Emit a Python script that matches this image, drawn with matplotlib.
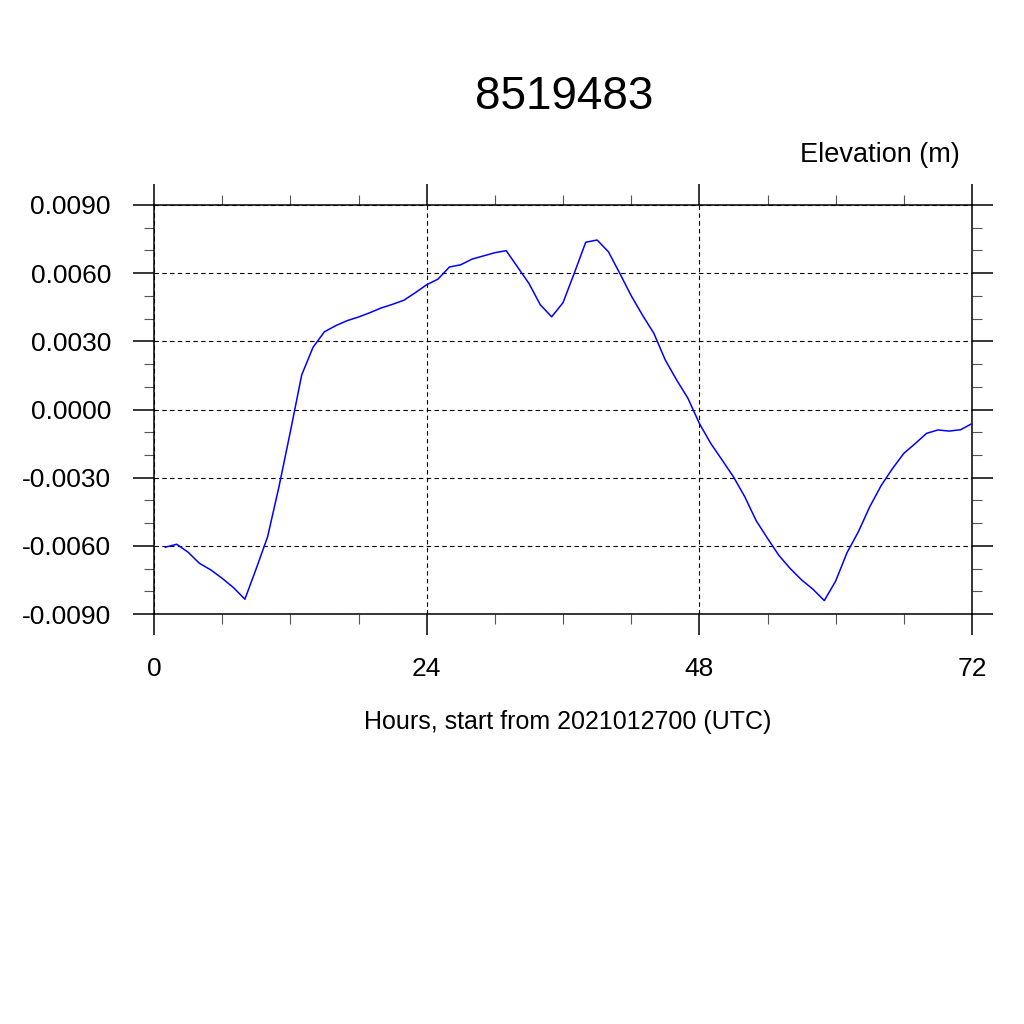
import numpy as np
import matplotlib
matplotlib.use('Agg')
import matplotlib.pyplot as plt
from matplotlib.ticker import MultipleLocator, FormatStrFormatter

plt.rcParams['font.family'] = ['Liberation Sans', 'DejaVu Sans']

# hourly water level (m), hours 1..72
hours = np.arange(1, 73)
elev = [-0.00606, -0.00593, -0.00628, -0.00677, -0.00706, -0.00743, -0.00784, -0.00835,
        -0.00700, -0.00560, -0.00340, -0.00098, 0.00152, 0.00274, 0.00342, 0.00369,
        0.00391, 0.00407, 0.00426, 0.00447, 0.00463, 0.00481, 0.00514, 0.00549,
        0.00574, 0.00627, 0.00637, 0.00662, 0.00676, 0.00690, 0.00699, 0.00627,
        0.00555, 0.00461, 0.00408, 0.00470, 0.00601, 0.00736, 0.00746, 0.00694,
        0.00599, 0.00501, 0.00415, 0.00335, 0.00218, 0.00130, 0.00049, -0.00061,
        -0.00149, -0.00222, -0.00296, -0.00384, -0.00489, -0.00567, -0.00642, -0.00700,
        -0.00750, -0.00791, -0.00841, -0.00755, -0.00630, -0.00538, -0.00428, -0.00335,
        -0.00260, -0.00193, -0.00150, -0.00105, -0.00090, -0.00095, -0.00089, -0.00062]

station = '8519483'
x_ticks = [0, 24, 48, 72]
y_ticks = [-0.009, -0.006, -0.003, 0.0, 0.003, 0.006, 0.009]

fig = plt.figure(figsize=(10.24, 10.24), dpi=100)
ax = fig.add_axes([154/1024, 1-614/1024, 818/1024, 409/1024])

ax.plot(hours, elev, color='blue', lw=1.1, zorder=3)

ax.set_xlim(0, 72)
ax.set_ylim(-0.009, 0.009)
ax.set_xticks(x_ticks)
ax.set_yticks(y_ticks)
ax.xaxis.set_minor_locator(MultipleLocator(6))
ax.yaxis.set_minor_locator(MultipleLocator(0.001))
ax.yaxis.set_major_formatter(FormatStrFormatter('%.4f'))

ax.grid(True, which='major', color='black', lw=0.8, linestyle=(0, (4, 3)))
for s in ax.spines.values():
    s.set_linewidth(1.1)

ax.tick_params(which='major', direction='out', length=15, width=1.1,
               top=True, right=True, labelsize=19)
ax.tick_params(which='minor', direction='out', length=7.5, width=0.8,
               color='#555555', top=True, right=True)
ax.tick_params(axis='x', which='major', pad=16)
ax.tick_params(axis='y', which='major', pad=16)

fig.text(564/1024, 1-109/1024, station, ha='center', va='baseline', fontsize=33)
fig.text(960/1024, 1-161.5/1024, 'Elevation (m)', ha='right', va='baseline', fontsize=19.5)
fig.text(567.5/1024, 1-729.5/1024, 'Hours, start from 2021012700 (UTC)',
         ha='center', va='baseline', fontsize=18)

fig.savefig('out.png', dpi=100)
